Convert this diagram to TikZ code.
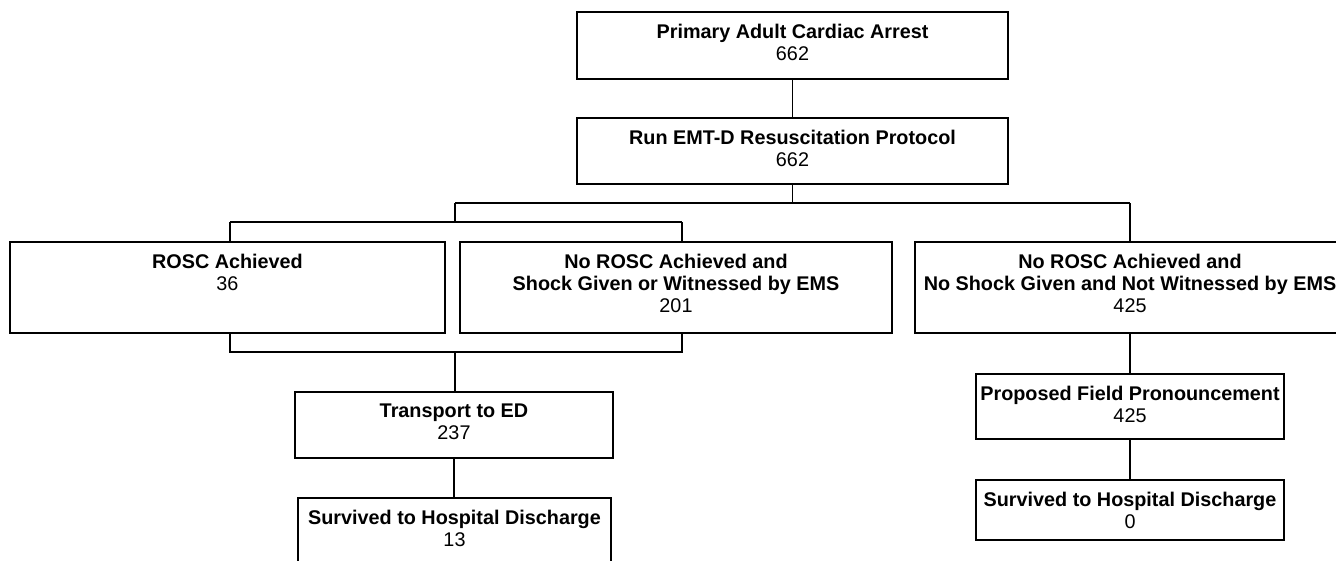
\documentclass[tikz,border=0pt]{standalone}
\usepackage{fontspec}
\setmainfont{Liberation Sans}
\begin{document}
\begin{tikzpicture}[x=1pt,y=-1pt,
  boxst/.style={draw, line width=1.8pt, rectangle, inner sep=0pt},
  txtst/.style={align=center, inner sep=0pt, font=\fontsize{19.8}{22}\selectfont},
  conn/.style={line width=1.5pt}]
\useasboundingbox[fill=white] (0,0) rectangle (1336,560);
\newcommand{\flowbox}[6]{%
  \node[boxst, minimum width={(#4-#2)*1pt}, minimum height={(#5-#3)*1pt}] (#1) at ({(#2+#4)/2},{(#3+#5)/2}) {};
  \node[txtst, anchor=north] (#1t) at ({(#2+#4)/2},{#3+12}) {#6};}
\flowbox{top}{577}{12}{1008}{79}{\textbf{Primary Adult Cardiac Arrest}\\662}
\flowbox{run}{577}{118}{1008}{184}{\textbf{Run EMT-D Resuscitation Protocol}\\662}
\flowbox{rosc}{10}{242}{445}{333}{\textbf{ROSC Achieved}\\36}
\flowbox{nrosc}{460}{242}{892}{333}{\textbf{No ROSC Achieved and}\\\textbf{Shock Given or Witnessed by EMS}\\201}
\flowbox{nshock}{915}{242}{1345}{333}{\textbf{No ROSC Achieved and}\\\textbf{No Shock Given and Not Witnessed by EMS}\\425}
\flowbox{trans}{295}{392}{613}{458}{\textbf{Transport to ED}\\237}
\flowbox{survA}{298}{498}{611}{566}{\textbf{Survived to Hospital Discharge}\\13}
\flowbox{prop}{976}{374}{1284}{439}{\textbf{Proposed Field Pronouncement}\\425}
\flowbox{survB}{976}{480}{1284}{540}{\textbf{Survived to Hospital Discharge}\\0}
\coordinate (j1) at (792.5,203);
\coordinate (jL) at (455,203);
\coordinate (jR) at (1130,203);
\coordinate (j2) at (455,222);
\coordinate (j2l) at (230,222);
\coordinate (j2r) at (682,222);
\coordinate (kl) at (230,352);
\coordinate (kr) at (682,352);
\coordinate (kc) at (455,352);
\draw[conn] (top.south) -- (run.north);
\draw[conn] (run.south) -- (j1);
\draw[conn] (jL) -- (jR);
\draw[conn] (jR) -- (jR |- nshock.north);
\draw[conn] (jL) -- (j2);
\draw[conn] (j2l) -- (j2r);
\draw[conn] (j2l) -- (j2l |- rosc.north);
\draw[conn] (j2r) -- (j2r |- nrosc.north);
\draw[conn] (kl |- rosc.south) -- (kl) -- (kr) -- (kr |- nrosc.south);
\draw[conn] (kc) -- (kc |- trans.north);
\draw[conn] (trans.south) -- (trans.south |- survA.north);
\draw[conn] (nshock.south) -- (nshock.south |- prop.north);
\draw[conn] (prop.south) -- (survB.north);
\end{tikzpicture}
\end{document}
